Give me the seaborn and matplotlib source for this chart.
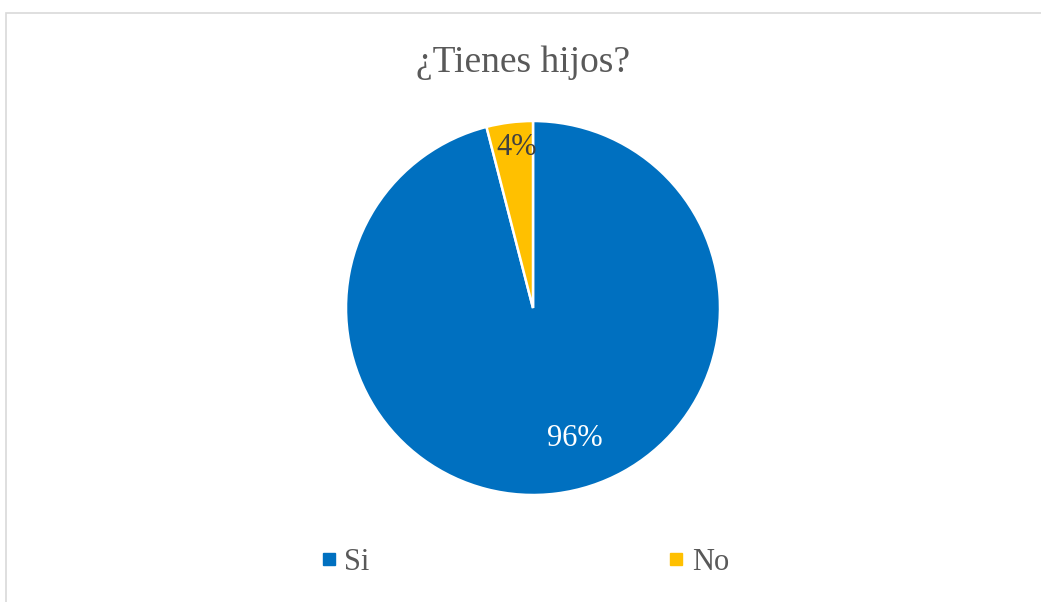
import matplotlib
matplotlib.use("Agg")
import matplotlib.pyplot as plt
import seaborn as sns
from matplotlib.lines import Line2D
from matplotlib.patches import Rectangle

categories = ["Si", "No"]
values = [96, 4]
colors = ["#0070C0", "#FFC000"]
title = "¿Tienes hijos?"

sns.set_theme(style="white")
plt.rcParams["font.family"] = ["Liberation Serif", "DejaVu Serif"]
text_color = "#595959"

W, H = 1041, 602
fig = plt.figure(figsize=(W / 100, H / 100), dpi=100)

# border
fig.patches.append(Rectangle((6 / W, -0.2), 1.5, 1.2 - 13 / H, transform=fig.transFigure,
                             fill=False, edgecolor="#D9D9D9", linewidth=1.2))

cx, cy, r = 533, 308, 187
ax = fig.add_axes([(cx - r) / W, (H - cy - r) / H, 2 * r / W, 2 * r / H])
wedges, texts, autotexts = ax.pie(
    values, colors=colors, startangle=90, counterclock=False,
    autopct="%1.0f%%", pctdistance=0.75,
    wedgeprops=dict(edgecolor="white", linewidth=1.8),
    textprops=dict(fontsize=22),
)
ax.set_xlim(-1, 1)
ax.set_ylim(-1, 1)
ax.set_aspect("equal")
ax.axis("off")

autotexts[0].set_color("white")
autotexts[0].set_position((0.225, -0.70))
autotexts[1].set_color("#404040")
autotexts[1].set_position((-0.09, 0.86))

fig.text(523 / W, 1 - 63 / H, title, ha="center", va="center", fontsize=27, color=text_color)

handles = [Line2D([0], [0], marker="s", linestyle="none", markersize=8,
                  markerfacecolor=c, markeredgecolor=c) for c in colors]
fig.legend(handles, categories, loc="center", bbox_to_anchor=(525 / W, 1 - 562 / H),
           ncol=2, frameon=False, fontsize=22, handlelength=0.5, handletextpad=0.25,
           columnspacing=9.8, labelcolor=text_color)

fig.savefig("out.png", dpi=100, facecolor="white")
